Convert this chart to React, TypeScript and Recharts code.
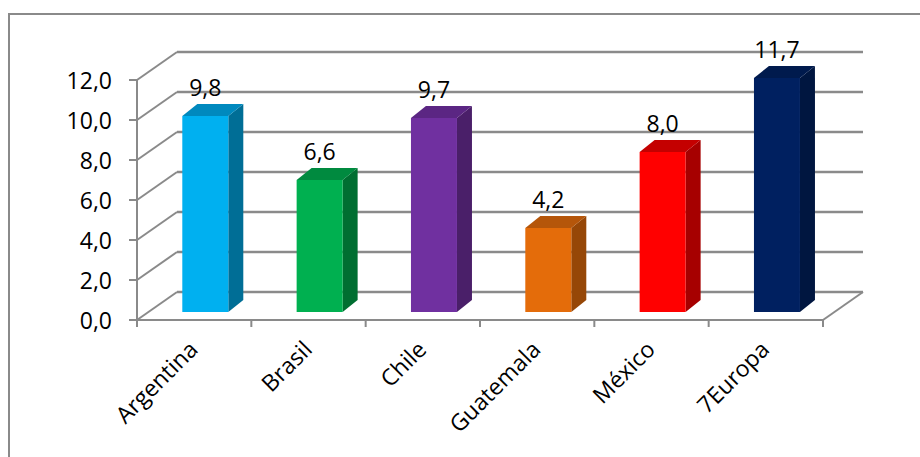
import { BarChart, Bar, XAxis, YAxis, CartesianGrid, LabelList } from "recharts";

const countries = ["Argentina", "Brasil", "Chile", "Guatemala", "México", "7Europa"];
const values = [9.8, 6.6, 9.7, 4.2, 8.0, 11.7];
const yTicks = [0, 2, 4, 6, 8, 10, 12];

const frontColors = ["#00B0F0", "#00B050", "#7030A0", "#E46C0A", "#FF0000", "#002060"];
const sideColors = ["#006E96", "#006E31", "#4A1F69", "#964707", "#A60000", "#001640"];
const topColors = ["#0089BE", "#008A3F", "#5B2683", "#B5560A", "#C40000", "#001A4D"];

const data = countries.map((name, i) => ({ name, value: values[i] }));

const GRID = "#8a8a8a";
const FONT = "'Open Sans', sans-serif";
// depth of the walls, offset of the bar front face, depth of the bars
const DX = 40, DY = -28;
const OX = 11, OY = -8;
const SX = 15, SY = -12;

const fmt = (v: number) => v.toFixed(1).replace(".", ",");

const wallLine = (p: any) => {
  const { x1, y1, x2 } = p;
  const floor = p.height != null && p.y != null ? Math.abs(y1 - (p.y + p.height)) < 1 : p.index === 0;
  return (
    <g key={p.key}>
      <line x1={x1} y1={y1} x2={x1 + DX} y2={y1 + DY} stroke={GRID} strokeWidth={2} />
      <line x1={x1 + DX} y1={y1 + DY} x2={x2 + DX} y2={y1 + DY} stroke={GRID} strokeWidth={2.5} />
      {floor && <line x1={x2} y1={y1} x2={x2 + DX} y2={y1 + DY} stroke={GRID} strokeWidth={2} />}
    </g>
  );
};

const Bar3D = (p: any) => {
  const { x, y, width: w, height: h, index } = p;
  const fx = x + OX;
  const fy = y + OY;
  return (
    <g>
      <polygon
        points={`${fx + w},${fy} ${fx + w + SX},${fy + SY} ${fx + w + SX},${fy + h + SY} ${fx + w},${fy + h}`}
        fill={sideColors[index]}
      />
      <polygon
        points={`${fx},${fy} ${fx + w},${fy} ${fx + w + SX},${fy + SY} ${fx + SX},${fy + SY}`}
        fill={topColors[index]}
      />
      <rect x={fx} y={fy} width={w} height={h} fill={frontColors[index]} />
    </g>
  );
};

const ValueLabel = (p: any) => {
  const vb = p.viewBox ?? p;
  return (
    <text x={vb.x + vb.width / 2 + OX} y={vb.y + OY - 20} textAnchor="middle" fontSize={23} fontFamily={FONT} fill="#000">
      {fmt(Number(p.value))}
    </text>
  );
};

const YTick = (p: any) => (
  <text x={p.x} y={p.y + 9} textAnchor="end" fontSize={23} fontFamily={FONT} fill="#000">
    {fmt(p.payload.value)}
  </text>
);

const XTick = (p: any) => {
  const { x, y, payload, index, visibleTicksCount } = p;
  const half = p.width > 100 ? p.width / countries.length / 2 : payload.offset || 57;
  return (
    <g>
      <line x1={x - half} y1={y} x2={x - half} y2={y + 7} stroke={GRID} strokeWidth={2} />
      {index === visibleTicksCount - 1 && (
        <line x1={x + half} y1={y} x2={x + half} y2={y + 7} stroke={GRID} strokeWidth={2} />
      )}
      <text transform={`translate(${x + 5},${y + 31}) rotate(-45)`} textAnchor="end" fontSize={23} fontFamily={FONT} fill="#000">
        {payload.value}
      </text>
    </g>
  );
};

export default function App() {
  return (
    <div style={{ position: "absolute", left: 0, top: 0, width: 920, height: 457, overflow: "hidden", background: "#fff" }}>
      <div
        style={{
          position: "absolute",
          left: 8,
          top: 13,
          width: 940,
          height: 480,
          borderTop: `2px solid ${GRID}`,
          borderLeft: `2px solid ${GRID}`,
        }}
      />
      <div style={{ position: "absolute", left: 0, top: 0 }}>
        <BarChart width={920} height={457} data={data} margin={{ top: 80, right: 97, left: 0, bottom: 0 }} barCategoryGap="30%">
          <CartesianGrid vertical={false} horizontal={wallLine} />
          <XAxis
            dataKey="name"
            interval={0}
            height={137}
            tickSize={0}
            tickMargin={0}
            tickLine={false}
            axisLine={{ stroke: GRID, strokeWidth: 2 }}
            tick={<XTick />}
          />
          <YAxis
            domain={[0, 12]}
            ticks={yTicks}
            width={137}
            tickSize={8}
            tickMargin={17}
            tickLine={{ stroke: GRID, strokeWidth: 2 }}
            axisLine={{ stroke: GRID, strokeWidth: 2 }}
            tick={<YTick />}
          />
          <Bar dataKey="value" shape={<Bar3D />} isAnimationActive={false}>
            <LabelList dataKey="value" content={<ValueLabel />} />
          </Bar>
        </BarChart>
      </div>
    </div>
  );
}
